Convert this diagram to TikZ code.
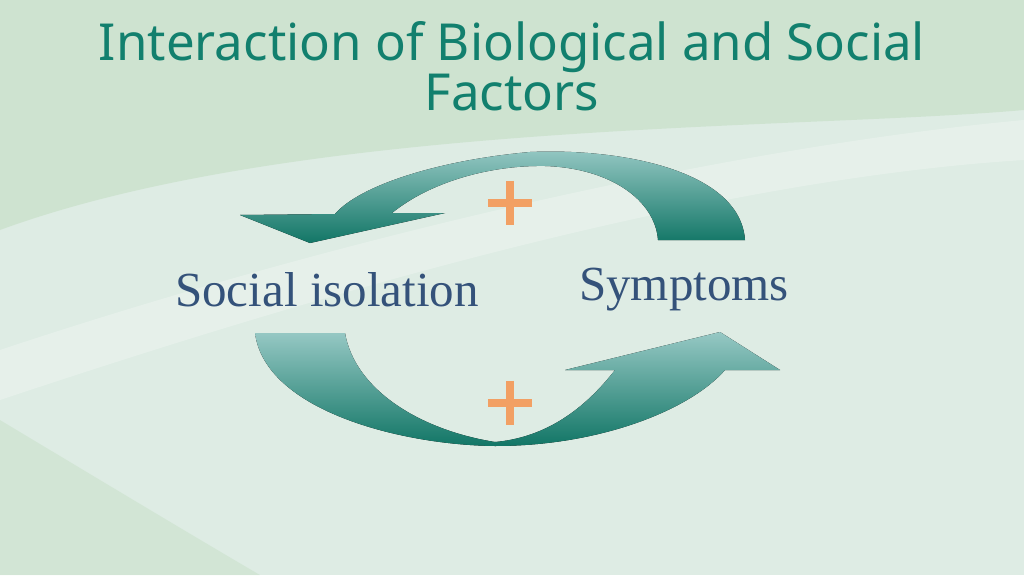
\documentclass[tikz,border=0pt]{standalone}
\usepackage{fontspec}
\setmainfont{Liberation Serif}
\newfontfamily\titlefont{Noto Sans}
\usetikzlibrary{positioning}
\definecolor{bgBase}{RGB}{222,236,228}
\definecolor{bgWave}{RGB}{200,224,200}
\definecolor{titleTeal}{RGB}{18,128,110}
\definecolor{labelBlue}{RGB}{52,82,122}
\definecolor{arrowLight}{RGB}{150,200,196}
\definecolor{arrowDark}{RGB}{18,118,102}
\definecolor{plusOrange}{RGB}{242,160,100}
\tikzset{
  band/.style={draw=none, top color=arrowLight, bottom color=arrowDark},
  label/.style={text=labelBlue, font=\fontsize{49}{50}\selectfont},
  plus/.style={minimum size=44pt, inner sep=0pt},
  plusbar/.style={plusOrange, line width=8pt}
}
\begin{document}
\begin{tikzpicture}[x=1pt,y=-1pt]
  \useasboundingbox (0,0) rectangle (1024,575);
  % background
  \fill[bgBase] (0,0) rectangle (1024,575);
  \fill[bgWave, opacity=.7] (0,0) -- (1024,0) -- (1024,110)
      .. controls (800,130) and (300,120) .. (0,230) -- cycle;
  \fill[white, opacity=.25] (0,350) .. controls (300,250) and (700,150) .. (1024,120)
      -- (1024,160) .. controls (700,180) and (300,300) .. (0,400) -- cycle;
  \fill[bgWave, opacity=.5] (0,420) .. controls (100,480) and (200,540) .. (260,575) -- (0,575) -- cycle;
  % title
  \node[text=titleTeal, align=center, font=\titlefont\fontsize{51}{46}\selectfont] (title) at (512,66)
      {Interaction of Biological and Social\\Factors};
  % upper arrow
  \fill[band] (745,240) .. controls (740,170) and (620,148) .. (530,152)
      .. controls (440,160) and (360,185) .. (335,214) -- (240,215) -- (310,243)
      -- (445,213) -- (392,213) .. controls (430,182) and (490,165) .. (545,166)
      .. controls (610,168) and (655,200) .. (658,240) -- cycle;
  % lower arrow
  \fill[band] (255,333) .. controls (265,410) and (400,445) .. (495,446)
      .. controls (600,446) and (690,410) .. (725,370) -- (780,370) -- (720,332)
      -- (565,370) -- (615,370) .. controls (580,415) and (540,438) .. (495,442)
      .. controls (420,430) and (355,390) .. (345,333) -- cycle;
  % labels
  \node[label] (isolation) at (327,290) {Social isolation};
  \node[label] (symptoms) at (684,290) {Symptoms};
  \node[plus] (plusTop) at (510,203) {};
  \node[plus] (plusBottom) at (510,403) {};
  \foreach \p in {plusTop,plusBottom}{%
    \draw[plusbar] (\p.north) -- (\p.south);
    \draw[plusbar] (\p.west) -- (\p.east);
  }
\end{tikzpicture}
\end{document}
